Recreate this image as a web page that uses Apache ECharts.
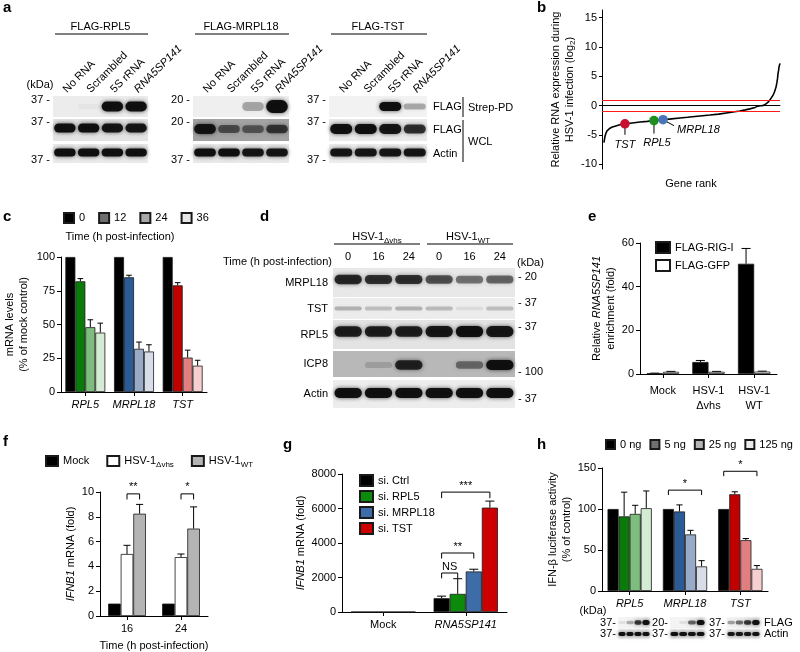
<!DOCTYPE html>
<html><head><meta charset="utf-8">
<script src="https://cdn.jsdelivr.net/npm/echarts@6/dist/echarts.min.js"></script>
<style>html,body{margin:0;padding:0;background:#fff;}#main{width:800px;height:652px;}</style>
</head><body><div id="main"></div>
<script>
const FONT = '"Liberation Sans", Arial, Helvetica, sans-serif';

// ---------------- DATA ----------------
// Panel a (western blot band intensities, rows x lanes)
const aLanes = ['No RNA', 'Scrambled', '5S rRNA', 'RNA5SP141'];
const aHeaders = ['FLAG-RPL5', 'FLAG-MRPL18', 'FLAG-TST'];
const aRowLabels = ['FLAG', 'FLAG', 'Actin'];
const aRPL5 = [[0, 0.03, 1, 1], [1, 1, 0.95, 0.95], [1, 1, 1, 1]];
const aMRPL18 = [[0, 0, 0.3, 1], [0.95, 0.55, 0.5, 0.7], [1, 1, 0.95, 0.95]];
const aTST = [[0, 0, 1, 0.3], [1, 1, 0.95, 0.8], [0.95, 0.95, 0.95, 0.95]];
const aKda = [['37', '37', '37'], ['20', '20', '37'], ['37', '37', '37']];

// Panel b (gene rank curve)
const bRank = [11,17,22,28,36,45,58,73,95,129,170,213,255,292,343,390,438,480,522,565,607,655,708,745,775,805,831,860,876,890,904,915,921,933,944,953,961,967,972,978,983,986,989,992,994,997,1000];
const bLog2 = [-6.3,-5.2,-4.7,-4.3,-4.05,-3.85,-3.65,-3.5,-3.3,-3.1,-2.95,-2.8,-2.68,-2.55,-2.4,-2.25,-2.1,-1.98,-1.85,-1.72,-1.6,-1.45,-1.2,-1.05,-0.9,-0.72,-0.55,-0.3,-0.08,-0.02,0,0.1,0.3,0.6,1.0,1.4,1.8,2.2,2.6,3.2,4.0,4.6,5.5,6.0,6.5,6.9,7.2];
const bGenes = ['TST', 'RPL5', 'MRPL18'];
const bGeneRank = [129, 292, 343];
const bGeneLog2 = [-3.1, -2.55, -2.4];
const bThresholds = [1, -1];
const bTicks = [-10, -5, 0, 5, 10, 15];

// Panel c
const cGenes = ['RPL5', 'MRPL18', 'TST'];
const cTimes = ['0', '12', '24', '36'];
const cMean = [[100, 100, 100], [82, 85, 79], [48, 32, 25.5], [44, 30, 19.5]];
const cSem = [[0, 0, 0], [2, 1.5, 2], [5.5, 5, 5.5], [7, 5, 4]];

// Panel d
const dLanes = ['0', '16', '24', '0', '16', '24'];
const dRows = ['MRPL18', 'TST', 'RPL5', 'ICP8', 'Actin'];
const dBands = [[0.85,0.8,0.8,0.65,0.5,0.55],[0.25,0.2,0.25,0.22,0.08,0.2],[0.9,0.9,0.9,0.95,1,0.95],[0,0.15,0.85,0,0.45,1],[1,1,1,1,1,1]];
const dKda = ['20', '37', '37', '100', '37'];

// Panel e
const eCats = ['Mock', 'HSV-1\nΔvhs', 'HSV-1\nWT'];
const eSeries = ['FLAG-RIG-I', 'FLAG-GFP'];
const eMean = [[0.3, 5.5, 50.5], [1.0, 1.0, 1.1]];
const eSem = [[0.1, 0.7, 7], [0.2, 0.2, 0.2]];

// Panel f
const fCats = ['16', '24'];
const fSeries = ['Mock', 'HSV-1Δvhs', 'HSV-1WT'];
const fMean = [[1, 1], [5, 4.75], [8.25, 7.05]];
const fSem = [[0, 0], [0.7, 0.25], [0.75, 1.75]];
const fSigCat = [0, 1], fSigFrom = [1, 1], fSigTo = [2, 2], fSigY = [9.85, 9.85], fSigTick = [9.4, 9.4], fSigText = ['**', '*'];

// Panel g
const gCats = ['Mock', 'RNA5SP141'];
const gSeries = ['si. Ctrl', 'si. RPL5', 'si. MRPL18', 'si. TST'];
const gMean = [[1, 800], [1, 1050], [1, 2350], [1, 6050]];
const gSem = [[0, 120], [0, 880], [0, 130], [0, 380]];
const gSigCat = [1, 1, 1], gSigFrom = [0, 0, 0], gSigTo = [3, 2, 1], gSigY = [6950, 3420, 2260], gSigTick = [6600, 3100, 1950], gSigText = ['***', '**', 'NS'];

// Panel h
const hCats = ['RPL5', 'MRPL18', 'TST'];
const hSeries = ['0 ng', '5 ng', '25 ng', '125 ng'];
const hMean = [[100, 100, 100], [91, 97, 118], [94, 69, 62], [101, 30, 27]];
const hSem = [[0, 0, 0], [29.5, 8, 3], [10.5, 5, 2], [21, 7, 4]];
const hSigCat = [1, 2], hSigFrom = [0, 0], hSigTo = [3, 3], hSigY = [123, 146], hSigTick = [117, 140], hSigText = ['*', '*'];
const hFlag = [[0.08, 0.3, 0.8, 1], [0, 0.08, 0.6, 1], [0.35, 0.55, 0.8, 1]];
const hActin = [[1, 1, 1, 1], [1, 1, 1, 1], [0.95, 0.95, 0.95, 1]];
const hKdaFlag = ['37', '20', '37'];
const hKdaActin = ['37', '37', '37'];

// ---------------- STYLE / LAYOUT ----------------
const geneShades = [
  ['#000000', '#0a7a0a', '#7dbd7d', '#d4ebd4'],
  ['#000000', '#2b5b97', '#97abc8', '#d7deea'],
  ['#000000', '#c10000', '#e17e80', '#f6cfd1']
];
const RICH = {
  i: { fontStyle: 'italic', fontSize: 11, fontFamily: FONT, color: '#000' },
  sub: { fontSize: 8, fontFamily: FONT, color: '#000', padding: [7, 0, 0, 0] }
};
const plainNum = v => String(v);

const grids = [], xAxes = [], yAxes = [], series = [], graphics = [], legends = [];
function addGrid(g, xa, ya) {
  const i = grids.length;
  grids.push(Object.assign({ containLabel: false, borderWidth: 0 }, g));
  xAxes.push(Object.assign({ gridIndex: i }, xa));
  yAxes.push(Object.assign({ gridIndex: i }, ya));
  return i;
}
function valAxis(min, max, interval, name, nameGap, extra) {
  return Object.assign({
    type: 'value', min, max, interval,
    axisLine: { show: true, lineStyle: { color: '#000', width: 1 } },
    axisTick: { show: true, length: 4, lineStyle: { color: '#000', width: 1 } },
    axisLabel: { color: '#000', fontSize: 11, fontFamily: FONT, margin: 6, formatter: plainNum },
    splitLine: { show: false },
    name, nameLocation: 'middle', nameGap, nameRotate: 90,
    nameTextStyle: { color: '#000', fontSize: 11, fontFamily: FONT, lineHeight: 14, rich: RICH }
  }, extra || {});
}
function catAxis(data, labelExtra, extra) {
  return Object.assign({
    type: 'category', data,
    axisLine: { show: true, lineStyle: { color: '#000', width: 1 } },
    axisTick: { show: true, alignWithLabel: true, length: 4, lineStyle: { color: '#000' } },
    axisLabel: Object.assign({ color: '#000', fontSize: 11, fontFamily: FONT, margin: 7, interval: 0, rich: RICH }, labelExtra || {}),
    splitLine: { show: false }
  }, extra || {});
}
function barX(api, cat, k, n, gap) {
  const band = api.size([1, 0])[0];
  const tw = band * (1 - gap), w = tw / n;
  const cx = api.coord([cat, 0])[0];
  return { x: cx - tw / 2 + (k + 0.5) * w, w };
}
function errSeries(gi, k, n, gap, means, sems) {
  return {
    type: 'custom', xAxisIndex: gi, yAxisIndex: gi, silent: true,
    data: means.map((m, i) => [i, m, m + sems[i]]),
    renderItem: (params, api) => {
      if (!(api.value(2) > api.value(1))) return { type: 'group', children: [] };
      const b = barX(api, api.value(0), k, n, gap);
      const y0 = api.coord([api.value(0), api.value(1)])[1];
      const y1 = api.coord([api.value(0), api.value(2)])[1];
      return { type: 'group', children: [
        { type: 'line', shape: { x1: b.x, y1: y0, x2: b.x, y2: y1 }, style: { stroke: '#000', lineWidth: 1 } },
        { type: 'line', shape: { x1: b.x - b.w * 0.28, y1: y1, x2: b.x + b.w * 0.28, y2: y1 }, style: { stroke: '#000', lineWidth: 1 } }
      ] };
    }
  };
}
function sigSeries(gi, n, gap, cats, from, to, ys, ticks, texts) {
  return {
    type: 'custom', xAxisIndex: gi, yAxisIndex: gi, silent: true, z: 6,
    data: cats.map((c, j) => [c, from[j], to[j], ys[j], ticks[j]]),
    renderItem: (params, api) => {
      const c = api.value(0);
      const x1 = barX(api, c, api.value(1), n, gap).x, x2 = barX(api, c, api.value(2), n, gap).x;
      const y = api.coord([c, api.value(3)])[1], yt = api.coord([c, api.value(4)])[1];
      return { type: 'group', children: [
        { type: 'polyline', shape: { points: [[x1, yt], [x1, y], [x2, y], [x2, yt]] }, style: { stroke: '#000', lineWidth: 1, fill: 'none' } },
        { type: 'text', style: { text: texts[params.dataIndex], x: (x1 + x2) / 2, y: y - 1, align: 'center', verticalAlign: 'bottom', fontSize: 11, fontFamily: FONT, fill: '#000' } }
      ] };
    }
  };
}
function barPanel(p) {
  const gi = addGrid({ left: p.left, top: p.top, width: p.width, height: p.height },
    catAxis(p.cats, p.xLabel, p.xExtra),
    valAxis(p.yMin, p.yMax, p.yInt, p.yName, p.yNameGap, p.yExtra));
  const n = p.names.length;
  p.names.forEach((name, k) => {
    series.push({
      type: 'bar', name, xAxisIndex: gi, yAxisIndex: gi, barGap: '0%', barCategoryGap: (p.gap * 100) + '%',
      itemStyle: { color: p.legendColors[k], borderColor: '#1a1a1a', borderWidth: 0.8 },
      data: p.means[k].map((v, i) => ({ value: v, itemStyle: { color: p.colorOf(k, i) } }))
    });
  });
  p.names.forEach((name, k) => series.push(errSeries(gi, k, n, p.gap, p.means[k], p.sems[k])));
  if (p.sig) series.push(sigSeries(gi, n, p.gap, ...p.sig));
  return gi;
}
function blot(x, y, w, h, bg, lanes, vals, thick, dy, xExtra, yExtra, yLabel) {
  const gi = addGrid({ left: x, top: y, width: w, height: h, show: true, backgroundColor: bg },
    Object.assign({ type: 'category', data: lanes, show: false, axisLine: { show: false }, axisTick: { show: false }, axisLabel: { show: false }, splitLine: { show: false } }, xExtra || {}),
    Object.assign({ type: 'category', data: [yLabel || ''], show: false, axisLine: { show: false }, axisTick: { show: false }, axisLabel: { show: false }, splitLine: { show: false } }, yExtra || {}));
  series.push({
    type: 'custom', xAxisIndex: gi, yAxisIndex: gi, silent: true,
    data: vals.map((v, i) => [i, 0, v]),
    renderItem: (params, api) => {
      const I = api.value(2);
      if (!(I > 0)) return { type: 'group', children: [] };
      const c = api.coord([api.value(0), 0]);
      const lw = api.size([1, 0])[0];
      const bw = lw * 0.9, bh = thick * (0.55 + 0.45 * I);
      return { type: 'rect', shape: { x: c[0] - bw / 2, y: c[1] + dy - bh / 2, width: bw, height: bh, r: bh / 2 },
        style: { fill: 'rgba(12,12,12,' + Math.min(1, I * 0.97) + ')', shadowBlur: 4, shadowColor: 'rgba(0,0,0,' + (I * 0.7) + ')' } };
    }
  });
  return gi;
}
function T(x, y, text, o) {
  o = o || {};
  graphics.push({ type: 'text', x, y, silent: true, style: Object.assign({
    text, fill: '#000', fontSize: 11, fontFamily: FONT,
    align: o.align || 'left', textAlign: o.align || 'left',
    verticalAlign: 'middle', textVerticalAlign: 'middle', rich: RICH
  }, o.style || {}) });
}
function L(x1, y1, x2, y2, w) {
  graphics.push({ type: 'line', silent: true, shape: { x1, y1, x2, y2 }, style: { stroke: '#000', lineWidth: w || 1 } });
}
function letter(x, y, s) { T(x, y, s, { style: { fontSize: 15, fontWeight: 'bold' } }); }
const legendText = { color: '#000', fontSize: 11, fontFamily: FONT };

// ---------------- PANEL a ----------------
letter(3, 8, 'a');
const A_X = [[53, 95], [193, 96], [329, 98]];
const A_ROWS = [[96, 21], [119, 22], [144, 19]];
const A_BG = [['#ececec', '#e3e3e3', '#eaeaea'], ['#efefef', '#a3a3a3', '#e8e8e8'], ['#f2f2f2', '#eaeaea', '#ededed']];
const A_THICK = [[10, 9, 8], [13, 10, 8], [9, 10, 8]];
const A_DY = [[0, -2, -1], [0, -1, -1], [0, -1, -1]];
const aData = [aRPL5, aMRPL18, aTST];
const A_KDA_Y = [100, 122, 160];
aData.forEach((grp, g) => {
  const [gx, gw] = A_X[g];
  T(gx + gw / 2, 27, aHeaders[g], { align: 'center' });
  L(gx + 2, 34, gx + gw, 34);
  grp.forEach((row, r) => {
    const [ry, rh] = A_ROWS[r];
    const xEx = r === 0 ? { show: true, position: 'top', axisLine: { show: false }, axisTick: { show: false },
      axisLabel: { show: true, rotate: -45, interval: 0, margin: 5, fontSize: 11, fontFamily: FONT, color: '#000', rich: RICH,
        formatter: v => v === 'RNA5SP141' ? '{i|' + v + '}' : v } } : null;
    const yEx = g === 2 ? { show: true, position: 'right', axisLine: { show: false }, axisTick: { show: false },
      axisLabel: { show: true, margin: 6, fontSize: 11, fontFamily: FONT, color: '#000' } } : null;
    blot(gx, ry, gw, rh, A_BG[g][r], aLanes, row, A_THICK[g][r], A_DY[g][r], xEx, yEx, aRowLabels[r]);
    T(gx - 3, A_KDA_Y[r], aKda[g][r] + ' -', { align: 'right' });
  });
});
T(40, 85, '(kDa)', { align: 'center' });
L(463, 97, 463, 117); T(468, 108, 'Strep-PD');
L(463, 120, 463, 162); T(468, 142, 'WCL');

// ---------------- PANEL b ----------------
letter(537, 8, 'b');
const bi = addGrid({ left: 602, top: 10, width: 178, height: 159 },
  { type: 'value', min: 0, max: 1000, axisLine: { show: true, lineStyle: { color: '#000' } }, axisTick: { show: false }, axisLabel: { show: false }, splitLine: { show: false },
    name: 'Gene rank', nameLocation: 'middle', nameGap: 9, nameTextStyle: { color: '#000', fontSize: 11, fontFamily: FONT } },
  valAxis(-10.8, 16.3, null, 'Relative RNA expression during\nHSV-1 infection (log{sub|2})', 21,
    { axisTick: { show: true, length: 3, customValues: bTicks, lineStyle: { color: '#000' } },
      axisLabel: { color: '#000', fontSize: 11, fontFamily: FONT, margin: 5, customValues: bTicks, formatter: plainNum } }));
series.push({
  type: 'line', xAxisIndex: bi, yAxisIndex: bi, showSymbol: false, symbol: 'none', silent: true, z: 3,
  lineStyle: { color: '#000', width: 1.6 },
  data: bRank.map((r, i) => [r, bLog2[i]]),
  markLine: { silent: true, symbol: ['none', 'none'], label: { show: false }, lineStyle: { color: '#ff1a1a', width: 1.2, type: 'solid' },
    data: bThresholds.map(v => ({ yAxis: v })) }
});
const B_COLORS = { TST: '#c8102e', RPL5: '#1f8f1f', MRPL18: '#4a76b8' };
const B_LABEL = { TST: { lx: 0, ly: 11, tx: 0, ty: 21, align: 'center' }, RPL5: { lx: 0, ly: 13, tx: 3, ty: 22, align: 'center' }, MRPL18: { lx: 11, ly: 6, tx: 14, ty: 10, align: 'left' } };
series.push({
  type: 'custom', xAxisIndex: bi, yAxisIndex: bi, silent: true, z: 5,
  data: bGeneRank.map((r, i) => [r, bGeneLog2[i]]),
  renderItem: (params, api) => {
    const name = bGenes[params.dataIndex], Lb = B_LABEL[name];
    const p = api.coord([api.value(0), api.value(1)]);
    return { type: 'group', children: [
      { type: 'line', shape: { x1: p[0], y1: p[1], x2: p[0] + Lb.lx, y2: p[1] + Lb.ly }, style: { stroke: '#000', lineWidth: 1 } },
      { type: 'circle', shape: { cx: p[0], cy: p[1], r: 4.8 }, style: { fill: B_COLORS[name] } },
      { type: 'text', style: { text: name, x: p[0] + Lb.tx, y: p[1] + Lb.ty, align: Lb.align, verticalAlign: 'middle', fontSize: 11, fontStyle: 'italic', fontFamily: FONT, fill: '#000' } }
    ] };
  }
});

// ---------------- PANEL c ----------------
letter(3, 217, 'c');
T(120, 237, 'Time (h post-infection)', { align: 'center' });
barPanel({ left: 61, top: 257, width: 146, height: 135, cats: cGenes, xLabel: { fontStyle: 'italic' },
  yMin: 0, yMax: 100, yInt: 25, yName: 'mRNA levels\n(% of mock control)', yNameGap: 30,
  names: cTimes, means: cMean, sems: cSem, gap: 0.18,
  legendColors: ['#000000', '#6e6e6e', '#a8a8a8', '#e6e6e6'], colorOf: (k, i) => geneShades[i][k] });
legends.push({ data: cTimes, left: 63, top: 212, padding: 0, itemWidth: 10, itemHeight: 10, itemGap: 13, icon: 'rect', textStyle: legendText });

// ---------------- PANEL d ----------------
letter(260, 217, 'd');
const D_X = [333, 182];
const D_ROWS = [[268, 29], [298, 21], [320, 29], [351, 26], [380, 28]];
const D_BG = ['#e8e8e8', '#ececec', '#e3e3e3', '#b8b8b8', '#ededed'];
const D_THICK = [10, 6, 11, 10, 10];
const D_DY = [-3, 0, -3, 1, -1];
const D_KDA_Y = [277, 303, 327, 372, 399];
dBands.forEach((row, r) => {
  const [ry, rh] = D_ROWS[r];
  const xEx = r === 0 ? { show: true, position: 'top', axisLine: { show: false }, axisTick: { show: false },
    axisLabel: { show: true, interval: 0, margin: 6, fontSize: 11, fontFamily: FONT, color: '#000' } } : null;
  const yEx = { show: true, position: 'left', axisLine: { show: false }, axisTick: { show: false },
    axisLabel: { show: true, margin: 5, fontSize: 11, fontFamily: FONT, color: '#000' } };
  blot(D_X[0], ry, D_X[1], rh, D_BG[r], dLanes, row, D_THICK[r], D_DY[r], xEx, yEx, dRows[r]);
  T(518, D_KDA_Y[r], '- ' + dKda[r]);
});
T(377, 237, 'HSV-1{sub|Δvhs}', { align: 'center' });
L(334, 244, 420, 244);
T(468, 237, 'HSV-1{sub|WT}', { align: 'center' });
L(427, 244, 513, 244);
T(332, 262, 'Time (h post-infection)', { align: 'right' });
T(517, 263, '(kDa)');

// ---------------- PANEL e ----------------
letter(588, 217, 'e');
barPanel({ left: 640, top: 243, width: 137, height: 131, cats: eCats, xLabel: { lineHeight: 15, margin: 9 },
  yMin: 0, yMax: 60, yInt: 20, yName: 'Relative {i|RNA5SP141}\nenrichment (fold)', yNameGap: 13,
  names: eSeries, means: eMean, sems: eSem, gap: 0.29,
  legendColors: ['#000000', '#ffffff'], colorOf: (k) => ['#000000', '#ffffff'][k] });
legends.push({ data: eSeries, orient: 'vertical', left: 655, top: 241, padding: 0, itemWidth: 14, itemHeight: 11, itemGap: 5, icon: 'rect', textStyle: legendText });

// ---------------- PANEL f ----------------
letter(3, 442, 'f');
barPanel({ left: 100, top: 492, width: 108, height: 124, cats: fCats,
  xExtra: { name: 'Time (h post-infection)', nameLocation: 'middle', nameGap: 24, nameTextStyle: { color: '#000', fontSize: 11, fontFamily: FONT } },
  yMin: 0, yMax: 10, yInt: 2, yName: '{i|IFNB1} mRNA (fold)', yNameGap: 22,
  names: fSeries, means: fMean, sems: fSem, gap: 0.3,
  legendColors: ['#000000', '#ffffff', '#b4b4b4'], colorOf: (k) => ['#000000', '#ffffff', '#b4b4b4'][k],
  sig: [fSigCat, fSigFrom, fSigTo, fSigY, fSigTick, fSigText] });
legends.push({ data: fSeries, left: 45, top: 455, padding: 0, itemWidth: 12, itemHeight: 10, itemGap: 17, icon: 'rect',
  formatter: n => n === 'HSV-1Δvhs' ? 'HSV-1{sub|Δvhs}' : (n === 'HSV-1WT' ? 'HSV-1{sub|WT}' : n),
  textStyle: Object.assign({ rich: RICH }, legendText) });

// ---------------- PANEL g ----------------
letter(283, 445, 'g');
barPanel({ left: 342, top: 474, width: 165, height: 138, cats: gCats,
  xLabel: { formatter: v => v === 'RNA5SP141' ? '{i|' + v + '}' : v },
  yMin: 0, yMax: 8000, yInt: 2000, yName: '{i|IFNB1} mRNA (fold)', yNameGap: 34,
  names: gSeries, means: gMean, sems: gSem, gap: 0.22,
  legendColors: ['#000000', '#0b8a0b', '#3d6ca8', '#cc0000'], colorOf: (k) => ['#000000', '#0b8a0b', '#3d6ca8', '#cc0000'][k],
  sig: [gSigCat, gSigFrom, gSigTo, gSigY, gSigTick, gSigText] });
legends.push({ data: gSeries, orient: 'vertical', left: 359, top: 474, padding: 0, itemWidth: 13, itemHeight: 11, itemGap: 3, icon: 'rect', textStyle: legendText });

// ---------------- PANEL h ----------------
letter(537, 445, 'h');
barPanel({ left: 602, top: 468, width: 166, height: 123, cats: hCats, xLabel: { fontStyle: 'italic' },
  yMin: 0, yMax: 150, yInt: 50, yName: 'IFN-β luciferase activity\n(% of control)', yNameGap: 24,
  names: hSeries, means: hMean, sems: hSem, gap: 0.2,
  legendColors: ['#000000', '#707070', '#b4b4b4', '#ececec'], colorOf: (k, i) => geneShades[i][k],
  sig: [hSigCat, hSigFrom, hSigTo, hSigY, hSigTick, hSigText] });
legends.push({ data: hSeries, left: 605, top: 439, padding: 0, itemWidth: 9, itemHeight: 9, itemGap: 8, icon: 'rect', textStyle: legendText });
const H_X = [[618, 32], [670, 35], [727, 33]];
const H_ROWS = [[617, 11], [629, 10]];
const hLanes = hSeries;
H_X.forEach(([hx, hw], g) => {
  const lastY = g === 2 ? { show: true, position: 'right', axisLine: { show: false }, axisTick: { show: false },
    axisLabel: { show: true, margin: 4, fontSize: 11, fontFamily: FONT, color: '#000' } } : null;
  blot(hx, H_ROWS[0][0], hw, H_ROWS[0][1], '#f4f4f4', hLanes, hFlag[g], 5, 0, null, lastY, 'FLAG');
  blot(hx, H_ROWS[1][0], hw, H_ROWS[1][1], '#f4f4f4', hLanes, hActin[g], 4, 0, null, lastY, 'Actin');
  T(hx - 2, 623, hKdaFlag[g] + '-', { align: 'right' });
  T(hx - 2, 634, hKdaActin[g] + '-', { align: 'right' });
});
T(593, 611, '(kDa)', { align: 'center' });

// ---------------- CHART ----------------
const chart = echarts.init(document.getElementById('main'), null, { renderer: 'canvas' });
chart.setOption({
  animation: false,
  backgroundColor: '#ffffff',
  textStyle: { fontFamily: FONT },
  grid: grids, xAxis: xAxes, yAxis: yAxes, series, legend: legends,
  graphic: { elements: graphics }
});
</script></body></html>
